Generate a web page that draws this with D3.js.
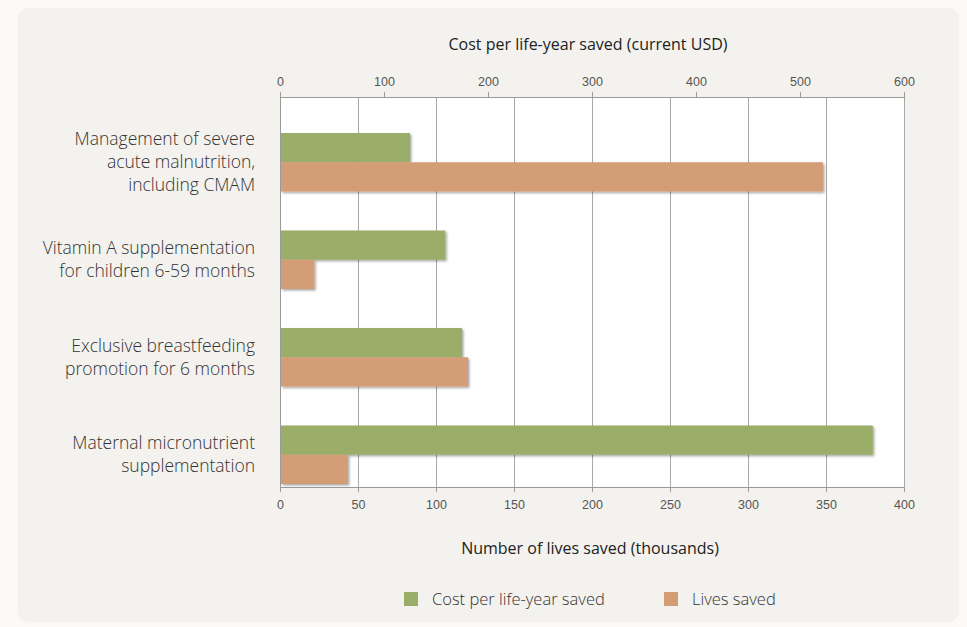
<!DOCTYPE html>
<html>
<head>
<meta charset="utf-8">
<script src="https://cdn.jsdelivr.net/npm/d3@7"></script>
<style>
    body { margin:0; background:#fbfaf8; }
    svg { display:block; font-family: "Open Sans", Lato, sans-serif; }
    .axis path, .axis line { stroke:#9a9a9a; shape-rendering:crispEdges; }
    .axis text { fill:#555; font-size:12.5px; font-weight:300; }
    .grid line { stroke:#a8a8a8; shape-rendering:crispEdges; }
    .catLabel { fill:#333; font-size:17.5px; font-weight:300; }
    .axisTitle { fill:#222; font-size:16px; font-weight:400; }
    .legend text { fill:#333; font-size:16.5px; font-weight:300; }
</style>
</head>
<body>
<svg id="chart" width="967" height="627"></svg>
<script>
// data
const categories = [
    "Management of severe|acute malnutrition,|including CMAM",
    "Vitamin A supplementation|for children 6-59 months",
    "Exclusive breastfeeding|promotion for 6 months",
    "Maternal micronutrient|supplementation"
];
const costPerLifeYear = [125, 159, 175, 570];   // current USD, top axis
const livesSaved = [348, 22, 120.5, 43.5];      // thousands, bottom axis
const seriesNames = ["Cost per life-year saved", "Lives saved"];
const costTicks = [0, 100, 200, 300, 400, 500, 600];
const livesTicks = [0, 50, 100, 150, 200, 250, 300, 350, 400];

const colours = {"Cost per life-year saved":"#9aae69", "Lives saved":"#d39d74"};

const svg = d3.select("#chart");
const plot = {left:280, right:904, top:97, bottom:487};

// panel background
svg.append("rect")
    .attr("x",18).attr("y",8)
    .attr("width",941).attr("height",614)
    .attr("rx",10)
    .attr("fill","#f4f2ee");

const defs = svg.append("defs");
defs.append("filter")
    .attr("id","shadow")
    .attr("x","-5%").attr("y","-20%").attr("width","115%").attr("height","160%")
    .append("feDropShadow")
    .attr("dx",1.5).attr("dy",1.5)
    .attr("stdDeviation",1.2)
    .attr("flood-color","#000")
    .attr("flood-opacity",0.35);

let xCost = d3.scaleLinear().domain([0,600]).range([plot.left, plot.right]);
let xLives = d3.scaleLinear().domain([0,400]).range([plot.left, plot.right]);
// groups sit low in the plot: big gap on top, almost none at the bottom
let yScale = d3.scaleBand()
    .domain(categories)
    .range([plot.top+36, plot.bottom-3])
    .paddingInner(0.4)
    .paddingOuter(0);
let ySeries = d3.scaleBand()
    .domain(seriesNames)
    .range([0, yScale.bandwidth()]);

// plot area
svg.append("rect")
    .attr("x",plot.left).attr("y",plot.top)
    .attr("width",plot.right-plot.left).attr("height",plot.bottom-plot.top)
    .attr("fill","#fff");

// vertical gridlines at the lives ticks
svg.append("g")
    .attr("class","grid")
    .selectAll("line")
    .data(livesTicks)
    .enter()
    .append("line")
    .attr("x1",d=>Math.round(xLives(d))+0.5)
    .attr("x2",d=>Math.round(xLives(d))+0.5)
    .attr("y1",plot.top)
    .attr("y2",plot.bottom);

// bars
const groups = svg.selectAll(".group")
    .data(categories)
    .enter()
    .append("g")
    .attr("class","group")
    .attr("transform",d=>"translate(0,"+yScale(d)+")");

groups.each(function(d,i){
    const rows = [
        {name:seriesNames[0], x:xCost(costPerLifeYear[i])},
        {name:seriesNames[1], x:xLives(livesSaved[i])}
    ];
    d3.select(this).selectAll("rect")
        .data(rows)
        .enter()
        .append("rect")
        .attr("x",plot.left+1)
        .attr("y",r=>ySeries(r.name))
        .attr("width",r=>r.x-plot.left-1)
        .attr("height",ySeries.bandwidth())
        .attr("fill",r=>colours[r.name])
        .attr("filter","url(#shadow)");
});

// axes
const topAxis = svg.append("g")
    .attr("class","axis")
    .attr("transform","translate(0,"+plot.top+")")
    .call(d3.axisTop(xCost).tickValues(costTicks).tickSize(5).tickSizeOuter(5).tickPadding(6));

const bottomAxis = svg.append("g")
    .attr("class","axis")
    .attr("transform","translate(0,"+plot.bottom+")")
    .call(d3.axisBottom(xLives).tickValues(livesTicks).tickSize(5).tickSizeOuter(5).tickPadding(8));

svg.append("line")
    .attr("x1",plot.left+0.5).attr("x2",plot.left+0.5)
    .attr("y1",plot.top).attr("y2",plot.bottom)
    .attr("stroke","#9a9a9a");

// category labels
groups.append("text")
    .attr("class","catLabel")
    .attr("text-anchor","end")
    .attr("x",255)
    .each(function(d){
        const lines = d.split("|");
        const mid = yScale.bandwidth()/2;
        const lh = 23;
        d3.select(this).selectAll("tspan")
            .data(lines)
            .enter()
            .append("tspan")
            .attr("x",255)
            .attr("y",(l,j)=> mid + (j-(lines.length-1)/2)*lh)
            .attr("dy","0.35em")
            .text(l=>l);
    });

// axis titles
svg.append("text")
    .attr("class","axisTitle")
    .attr("x",(plot.left+plot.right)/2-4)
    .attr("y",50)
    .attr("text-anchor","middle")
    .text("Cost per life-year saved (current USD)");

svg.append("text")
    .attr("class","axisTitle")
    .attr("x",(plot.left+plot.right)/2-2)
    .attr("y",554)
    .attr("text-anchor","middle")
    .text("Number of lives saved (thousands)");

// legend
const legendX = [404, 664];
const legend = svg.append("g")
    .attr("class","legend")
    .selectAll("g")
    .data(seriesNames)
    .enter()
    .append("g")
    .attr("transform",(d,i)=>"translate("+legendX[i]+",592)");

legend.append("rect")
    .attr("width",14).attr("height",14)
    .attr("fill",d=>colours[d]);

legend.append("text")
    .attr("x",28)
    .attr("y",7)
    .attr("dy","0.35em")
    .text(d=>d);
</script>
</body>
</html>
